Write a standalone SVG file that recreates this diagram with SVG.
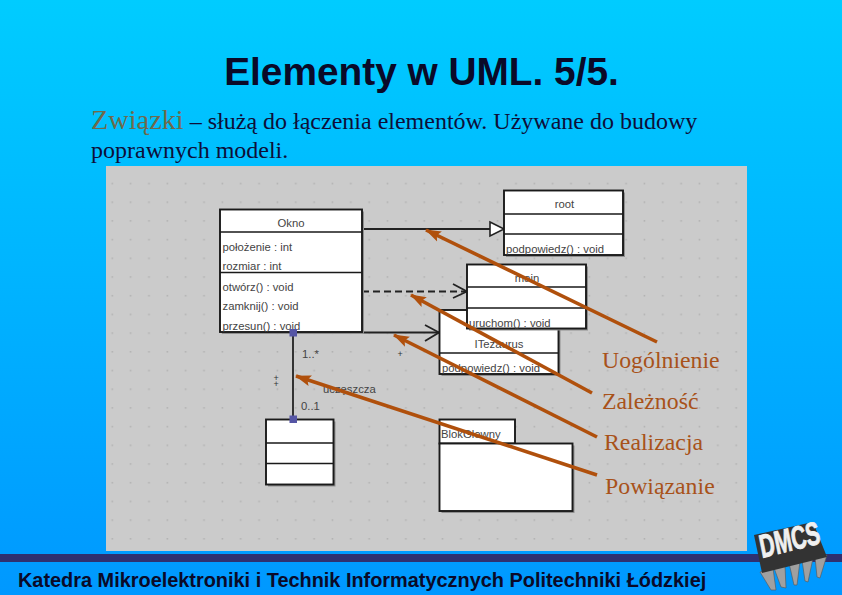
<svg xmlns="http://www.w3.org/2000/svg" width="842" height="595" viewBox="0 0 842 595">
<style>
.box{fill:#fff;stroke:#1a1a1a;stroke-width:1.9}
.sh{fill:#8f8f8f}
.div{stroke:#1a1a1a;stroke-width:1.7;fill:none}
.u{font:11.3px "Liberation Sans",Arial,sans-serif;fill:#444}
.p{font:9px "Liberation Sans",Arial,sans-serif;fill:#333}
.c{text-anchor:middle}
.lab{font:23.8px "Liberation Serif","Times New Roman",serif;fill:#a8521a}
.body{font:24px "Liberation Serif","Times New Roman",serif;fill:#0e0e38}
.l{stroke:#222;stroke-width:1.8;fill:none}
.sq{fill:#5555a5}
.leg{fill:#a0a0a0;stroke:#555;stroke-width:.6}
.cal{stroke:#b0500c;stroke-width:3.6;fill:none;marker-end:url(#ob)}
</style>
<defs>
<linearGradient id="bg" x1="0" y1="0" x2="0" y2="1"><stop offset="0" stop-color="#00ccff"/><stop offset="1" stop-color="#0098ff"/></linearGradient>
<pattern id="dots" x="108" y="164" width="18.35" height="18.7" patternUnits="userSpaceOnUse"><rect x="3.5" y="0" width="1.6" height="1.6" fill="#b2b2b2"/></pattern>
<marker id="ob" markerWidth="16" markerHeight="12" refX="15" refY="6" orient="auto" markerUnits="userSpaceOnUse"><path d="M0 0.500L16 6L0 11.500L3 6Z" fill="#b0500c"/></marker>
</defs>
<rect width="842" height="595" fill="url(#bg)"/>
<text x="421.500" y="85" text-anchor="middle" font-family="Liberation Sans,Arial,sans-serif" font-weight="700" font-size="38.800" fill="#0a0a28">Elementy w UML. 5/5.</text>
<text class="body" x="91" y="129"><tspan font-size="28.300" fill="#6f6a4c">Związki</tspan> – służą do łączenia elementów. Używane do budowy</text>
<text class="body" x="91" y="158" font-size="23.800">poprawnych modeli.</text>
<rect x="106" y="166" width="641" height="385" fill="#cbcbcb"/>
<rect x="106" y="166" width="641" height="385" fill="url(#dots)"/>
<rect x="0" y="554" width="842" height="8" fill="#2f3070"/>

<g id="connectors-uml">
<path class="l" d="M362 229H490"/>
<path d="M490 222L504 229L490 236Z" fill="#fff" stroke="#222" stroke-width="1.6"/>
<path class="l" d="M362 291.500H467" stroke-dasharray="7 4"/>
<path class="l" d="M453 284L467 291.500L453 298"/>
<path class="l" d="M362 332.500H439"/>
<path class="l" d="M425 325L439 332.500L425 341"/>
<path class="l" d="M293 333V419" stroke-width="2"/>
</g>

<g id="okno">
<rect class="sh" x="222" y="211.500" width="142" height="122.500"/>
<rect class="box" x="220" y="209.500" width="142" height="122.500"/>
<path class="div" d="M220 232H362M220 272.500H362"/>
<text class="u c" x="291" y="226.500">Okno</text>
<text class="u" x="222.500" y="250.500">położenie : int</text>
<text class="u" x="222.500" y="270">rozmiar : int</text>
<text class="u" x="222.500" y="290.500">otwórz() : void</text>
<text class="u" x="222.500" y="310">zamknij() : void</text>
<text class="u" x="222.500" y="329.500">przesun() : void</text>
</g>
<g id="root">
<rect class="sh" x="506" y="192.500" width="119" height="64.500"/>
<rect class="box" x="504" y="190.500" width="119" height="64.500"/>
<path class="div" d="M504 214H623M504 234H623"/>
<text class="u c" x="564.500" y="208" font-style="italic">root</text>
<text class="u" x="506" y="253">podpowiedz() : void</text>
</g>
<g id="iteza">
<rect class="sh" x="441.500" y="312" width="119" height="64"/>
<rect class="box" x="439.500" y="310" width="119" height="64"/>
<path class="div" d="M439.500 353H558.500"/>
<text class="u c" x="499" y="348">ITezaurus</text>
<text class="u" x="442" y="372">podpowiedz() : void</text>
</g>
<g id="main">
<rect class="sh" x="469" y="266.500" width="119" height="64"/>
<rect class="box" x="467" y="264.500" width="119" height="64"/>
<path class="div" d="M467 287H586M467 308H586"/>
<text class="u c" x="527" y="282">main</text>
<text class="u" x="469" y="326.500">uruchom() : void</text>
</g>
<g id="klasa">
<rect class="sh" x="268" y="421.500" width="67.500" height="65"/>
<rect class="box" x="266" y="419.500" width="67.500" height="65"/>
<path class="div" d="M266 443H333.500M266 463.500H333.500"/>
</g>
<g id="pakiet">
<rect class="sh" x="441.500" y="445.500" width="133" height="67.500"/>
<rect class="box" x="439.500" y="419.500" width="75.500" height="24"/>
<rect class="box" x="439.500" y="443.500" width="133" height="67.500"/>
<text class="u" x="441" y="437.500">BlokGlowny</text>
</g>
<g id="assoc-labels">
<rect class="sq" x="289.500" y="329" width="7.500" height="7.500"/>
<rect class="sq" x="289.500" y="415.500" width="7.500" height="7.500"/>
<text class="u" x="302" y="357.500">1..*</text>
<text class="u" x="301" y="410">0..1</text>
<text class="u" x="323" y="393">uczęszcza</text>
<text class="p" x="397.400" y="357">+</text>
<text class="p" x="273.400" y="380.500">+<tspan x="273.400" dy="6.700">+</tspan></text>
</g>

<g id="connectors-callout">
<path class="cal" d="M657 342L426 230"/>
<path class="cal" d="M592 393L411 295"/>
<path class="cal" d="M597 437L394 335"/>
<path class="cal" d="M597 475L296 376"/>
</g>
<g id="labels">
<text class="lab" x="602" y="368">Uogólnienie</text>
<text class="lab" x="602" y="409">Zależność</text>
<text class="lab" x="604" y="450">Realizacja</text>
<text class="lab" x="605" y="494">Powiązanie</text>
</g>
<text x="18" y="587" font-family="Liberation Sans,Arial,sans-serif" font-weight="700" font-size="19.900" fill="#0a0a28">Katedra Mikroelektroniki i Technik Informatycznych Politechniki Łódzkiej</text>
<g id="dmcs">
<path class="leg" d="M760 572L773 568L776 590L771 590Z"/><path class="leg" d="M774 568L785 566L786 588L781 587Z"/><path class="leg" d="M789 563L800 561L797 585L794 585Z"/><path class="leg" d="M802 560L813 558L808 582L805 581Z"/><path class="leg" d="M815 557L827 555L820 578L817 577Z"/>
<path d="M754 535L813 522L827 557L762 573Z" fill="#333"/>
<text transform="translate(762 558) rotate(-14) scale(.72 1.12) skewX(-4)" font-family="Liberation Sans,Arial,sans-serif" font-weight="700" font-size="29" fill="#f0f0f0" stroke="#f0f0f0" stroke-width=".8">DMCS</text>
</g>
</svg>
